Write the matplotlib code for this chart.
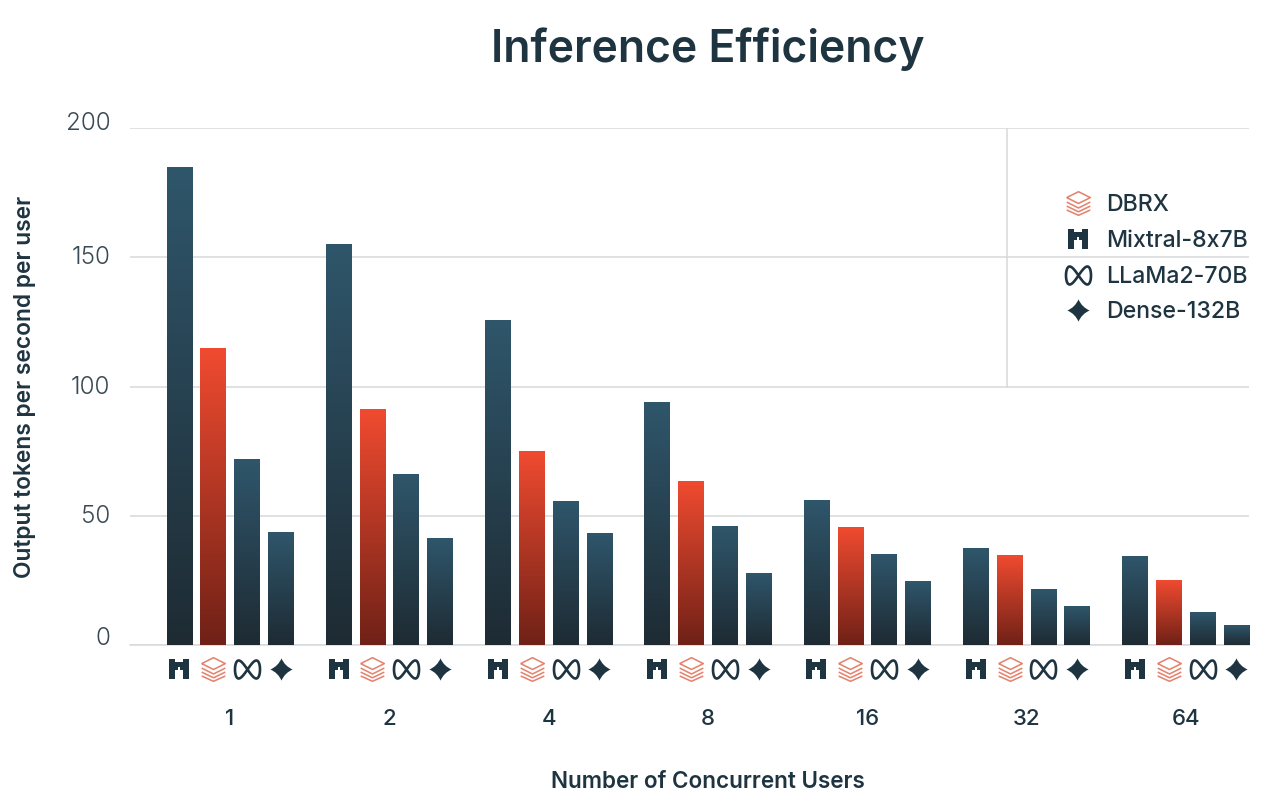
import numpy as np
import matplotlib
matplotlib.use("Agg")
import matplotlib.pyplot as plt
from matplotlib.colors import LinearSegmentedColormap
from matplotlib.lines import Line2D
from matplotlib.path import Path
from matplotlib.transforms import ScaledTranslation

users = ["1", "2", "4", "8", "16", "32", "64"]
mixtral = [184.9, 155.0, 125.7, 94.0, 56.0, 37.5, 34.4]
dbrx = [114.7, 91.0, 75.0, 63.4, 45.6, 34.8, 24.8]
llama = [71.8, 66.0, 55.7, 46.0, 35.2, 21.5, 12.4]
dense = [43.7, 41.2, 43.3, 27.7, 24.4, 15.0, 7.7]
yticks = [0, 50, 100, 150, 200]

plt.rcParams['font.family'] = ['Inter', 'DejaVu Sans']
ink = "#1f3441"
W, H = 1280, 809

blue = LinearSegmentedColormap.from_list("blue", ["#1e2b33", "#2f566b"])
red = LinearSegmentedColormap.from_list("red", ["#6f2117", "#f04b30"])

# icons, all as marker paths
M, L, C3, CL = Path.MOVETO, Path.LINETO, Path.CURVE3, Path.CLOSEPOLY

mix_v = [(-1, 1), (-.45, 1), (-.45, .72), (.45, .72), (.45, 1), (1, 1), (1, -1), (.38, -1), (.38, -.1), (.14, -.1),
         (.14, .25), (-.14, .25), (-.14, -.1), (-.38, -.1), (-.38, -1), (-1, -1), (-1, 1)]
mix_icon = Path(mix_v, [M] + [L] * 15 + [CL])

star_v = [(0, 1), (.3, .3), (1, 0), (.3, -.3), (0, -1), (-.3, -.3), (-1, 0), (-.3, .3), (0, 1)]
star_icon = Path(star_v, [M] + [C3] * 8)

t = np.linspace(0, 2 * np.pi, 80)
inf_icon = Path(np.column_stack([np.sin(t), 0.72 * np.sin(2 * t)]))

db_v = [(-1, .5), (0, 1), (1, .5), (0, 0), (-1, .5),
        (-1, .12), (0, -.38), (1, .12),
        (-1, -.22), (0, -.7), (1, -.22),
        (-1, -.55), (0, -1), (1, -.55)]
db_c = [M, L, L, L, L, M, L, L, M, L, L, M, L, L]
db_icon = Path(db_v, db_c)

mix_style = dict(marker=mix_icon, ms=14, mfc=ink, mec=ink, mew=0, ls="none")
star_style = dict(marker=star_icon, ms=16, mfc=ink, mec=ink, mew=0, ls="none")
inf_style = dict(marker=inf_icon, ms=18, mfc="none", mec=ink, mew=1.9, ls="none")
db_style = dict(marker=db_icon, ms=17, mfc="none", mec="#e4846f", mew=1.15, ls="none")

fig = plt.figure(figsize=(W / 100, H / 100), dpi=100)
ax = fig.add_axes([130 / W, 1 - 645 / H, (1249 - 130) / W, (645 - 128) / H])

series = [(mixtral, blue, mix_style), (dbrx, red, db_style), (llama, blue, inf_style), (dense, blue, star_style)]
group = np.arange(len(users))
step = 0.2122
width = 0.16
grad = np.linspace(1, 0, 256).reshape(-1, 1)

for k, (vals, cmap, icon) in enumerate(series):
    xs = group + (k - 1.5) * step
    for x, v in zip(xs, vals):
        ax.imshow(grad, cmap=cmap, vmin=0, vmax=1, aspect="auto", zorder=3,
                  extent=(x - width / 2, x + width / 2, 0, v))
    ax.plot(xs, [-9.3] * len(xs), clip_on=False, zorder=4, **icon)

ax.set_xlim(-0.628, 6.397)
ax.set_ylim(0, 200)

for s in ax.spines.values():
    s.set_visible(False)
ax.yaxis.grid(True, color="#d6d9db", lw=1.1, zorder=0)
ax.set_axisbelow(True)
ax.axhline(0, color="#d6d9db", lw=1.1, zorder=1, clip_on=False)
ax.axvline(4.877, ymin=0.5, ymax=1, color="#d6d9db", lw=1.1, zorder=1)

ax.set_xticks(group)
ax.set_xticklabels(users, fontsize=16, fontweight=500, color=ink)
ax.tick_params(axis="x", length=0, pad=46)
ax.set_yticks(yticks)
ax.set_yticklabels([str(v) for v in yticks], fontsize=17.5, fontweight=300, color="#3a4a54")
ax.tick_params(axis="y", length=0, pad=14)
# the y labels sit a little above their gridlines
nudge = [9, 2, 1, 2, 7]
for lab, n in zip(ax.get_yticklabels(), nudge):
    lab.set_transform(lab.get_transform() + ScaledTranslation(0, n / 100, fig.dpi_scale_trans))

fig.text(708 / W, 1 - 49 / H, "Inference Efficiency", ha="center", va="center", fontsize=32, fontweight=600, color=ink)
fig.text(708 / W, 1 - 782 / H, "Number of Concurrent Users", ha="center", va="center", fontsize=16.2, fontweight=600, color=ink)
fig.text(25 / W, 1 - 387 / H, "Output tokens per second per user", rotation=90, ha="center", va="center",
         fontsize=16.4, fontweight=600, color=ink)

handles = [Line2D([], [], **db_style), Line2D([], [], **mix_style), Line2D([], [], **inf_style), Line2D([], [], **star_style)]
names = ["DBRX", "Mixtral-8x7B", "LLaMa2-70B", "Dense-132B"]
leg = ax.legend(handles, names, loc="upper left", bbox_to_anchor=(1063 / W, 1 - 194 / H), bbox_transform=fig.transFigure,
                frameon=False, fontsize=16.6, labelspacing=0.6, handletextpad=0.6, handlelength=1.27, borderpad=0, borderaxespad=0,
                labelcolor=ink)
for txt in leg.get_texts():
    txt.set_fontweight(500)

fig.savefig("out.png", dpi=100)
